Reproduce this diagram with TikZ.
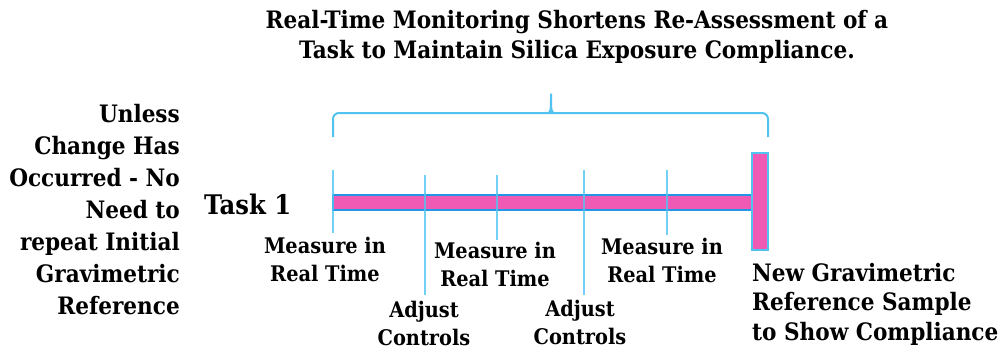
\documentclass[tikz,border=0pt]{standalone}
\usepackage{fontspec}
\setmainfont{DejaVu Serif Condensed}
\definecolor{taskpink}{RGB}{240,90,180}
\definecolor{edgeblue}{RGB}{35,150,230}
\definecolor{tickblue}{RGB}{80,195,240}
\begin{document}
\begin{tikzpicture}
        [x=1pt,y=-1pt,
         txt/.style={inner sep=0pt,font=\bfseries\fontsize{24}{32}\selectfont},
         lbl/.style={txt,align=center,font=\bfseries\fontsize{21.5}{27.5}\selectfont},
         tick/.style={tickblue,line width=2pt,opacity=0.8}]
        \useasboundingbox (0,0) rectangle (1002,354);

        \node[txt,align=center,anchor=north,font=\bfseries\fontsize{24}{30}\selectfont] (title) at (577,10)
          {Real-Time Monitoring Shortens Re-Assessment of a\\Task to Maintain Silica Exposure Compliance.};
        \node[txt,align=right,anchor=north east] (unless) at (180,104)
          {Unless\\Change Has\\Occurred - No\\Need to\\repeat Initial\\Gravimetric\\Reference};
        \node[txt,anchor=base west,font=\bfseries\fontsize{27}{32}\selectfont] (task) at (204,214) {Task 1};

        \draw[tickblue,line width=2pt,rounded corners=6pt]
          (333,137) -- (333,113) -- (548,113)
          .. controls (551,113) and (551,108) .. (551,90)
          .. controls (551,108) and (551,113) .. (554,113) -- (768,113) -- (768,137);

        \draw[edgeblue,line width=1.5pt,fill=taskpink] (333,195) rectangle (752,210);
        \draw[tickblue,line width=2pt,fill=taskpink] (752,153) rectangle (768,250);

        \foreach \x/\a/\b in {333/170/233,425/175/295,497/175/240,584/170/295,667/170/235}
        {\draw[tick] (\x,\a) -- (\x,\b);}

        \node[lbl,anchor=north] (meas1) at (325,237) {Measure in\\Real Time};
        \node[lbl,anchor=north] (meas2) at (495,242) {Measure in\\Real Time};
        \node[lbl,anchor=north] (meas3) at (662,238) {Measure in\\Real Time};
        \node[lbl,anchor=north] (adj1) at (424,301) {Adjust\\Controls};
        \node[lbl,anchor=north] (adj2) at (580,300) {Adjust\\Controls};
        \node[txt,align=left,anchor=north west,font=\bfseries\fontsize{24}{29.5}\selectfont] (newref) at (752,263)
          {New Gravimetric\\Reference Sample\\to Show Compliance};
      \end{tikzpicture}
\end{document}
